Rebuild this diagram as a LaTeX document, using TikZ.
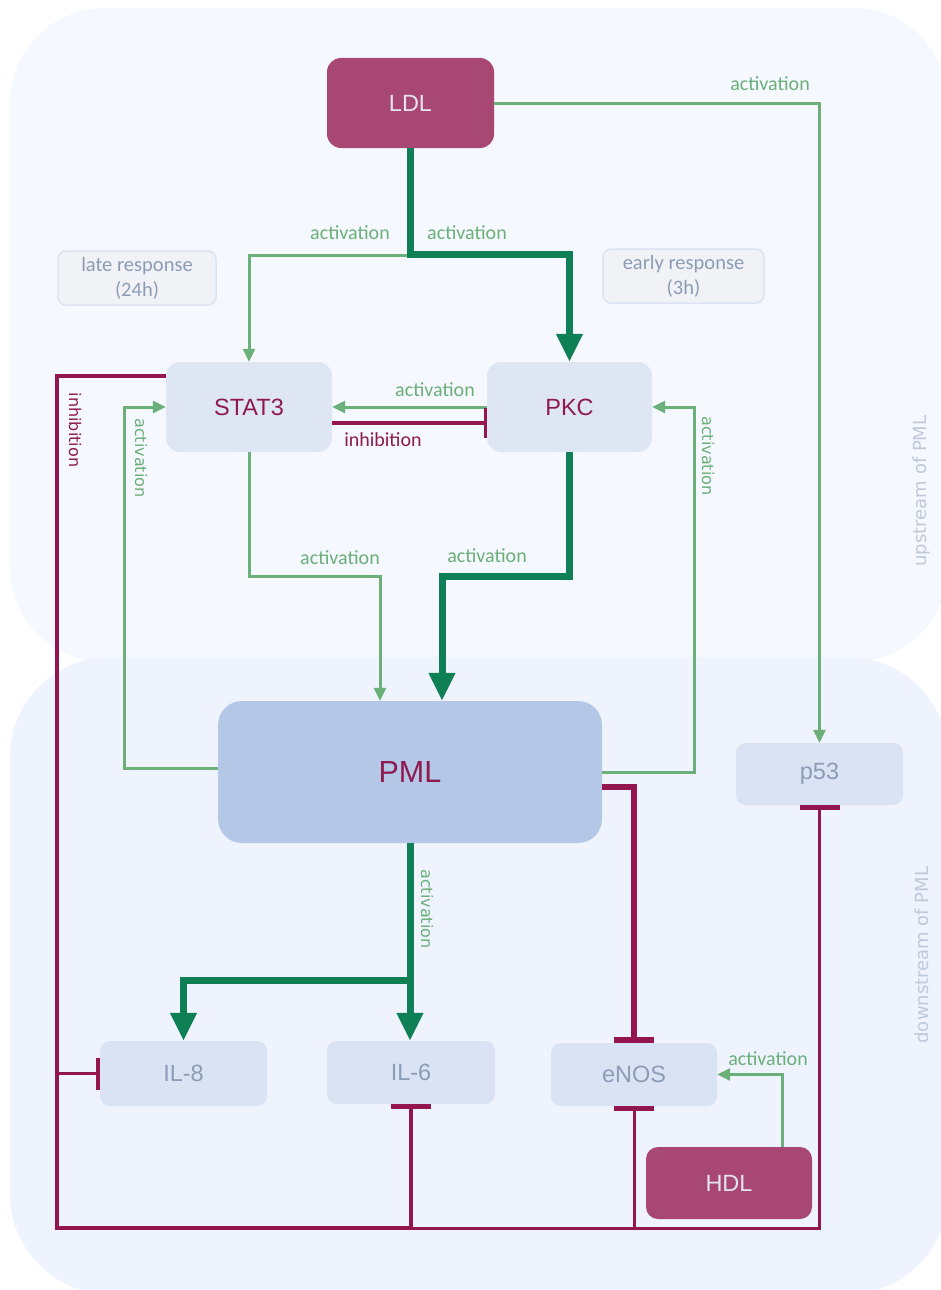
\documentclass[tikz,border=0pt]{standalone}
\usepackage{fontspec}
\setmainfont{Carlito}
\newfontfamily\labelfont{Liberation Sans}
\newfontfamily\widefont{DejaVu Sans}
\usetikzlibrary{arrows.meta}

\definecolor{upbg}{HTML}{F5F8FE}
\definecolor{lowbg}{HTML}{EEF3FD}
\definecolor{plum}{HTML}{A84773}
\definecolor{inhib}{HTML}{931651}
\definecolor{dkgreen}{HTML}{0F7F55}
\definecolor{ltgreen}{HTML}{6BAF79}
\definecolor{boxfill}{HTML}{DEE6F4}
\definecolor{pmlfill}{HTML}{B4C7E7}
\definecolor{leaffill}{HTML}{DAE3F3}
\definecolor{leaftext}{HTML}{8C9CB7}
\definecolor{notefill}{HTML}{F1F2F5}
\definecolor{noteline}{HTML}{DCE3F2}
\definecolor{sidetext}{HTML}{BFC9DA}
\definecolor{magtext}{HTML}{8E1A50}
\definecolor{srctext}{HTML}{E2E2F0}

\tikzset{
  box/.style={rounded corners=12pt, inner sep=0pt,
    font=\labelfont\fontsize{23.5}{26}\selectfont},
  source/.style={box, fill=plum, text=srctext},
  hub/.style={box, fill=boxfill, text=magtext},
  leaf/.style={box, fill=leaffill, text=leaftext},
  note/.style={draw=noteline, line width=1.5pt, fill=notefill, rounded corners=8pt,
    text=leaftext, align=center, inner sep=0pt, font=\fontsize{20.5}{25}\selectfont},
  act/.style={draw=ltgreen, line width=3pt, -{Triangle[length=13pt,width=12pt]}},
  strong/.style={draw=dkgreen, line width=7pt, -{Triangle[length=28pt,width=25pt]}},
  inh/.style={draw=inhib, line width=3pt, -{Bar[width=40pt,line width=5pt]}},
  lab/.style={text=ltgreen, font=\fontsize{20}{22}\selectfont, inner sep=1pt},
  ilab/.style={text=magtext, font=\fontsize{20}{22}\selectfont, inner sep=1pt},
  vlab/.style={font=\widefont\fontsize{16}{18}\selectfont, rotate=-90, inner sep=1pt},
  side/.style={text=sidetext, font=\widefont\fontsize{18}{20}\selectfont, rotate=90, inner sep=1pt}
}

\begin{document}
\begin{tikzpicture}[x=1pt,y=-1pt]
\useasboundingbox (0,0) rectangle (941,1290);

% two background bands
\fill[upbg, rounded corners=95pt] (10,8) rectangle (948,662);
\fill[lowbg, rounded corners=100pt] (10,657) rectangle (948,1294);

% band captions
\node[side] (up) at (922,491) {upstream of PML};
\node[side] (down) at (922,955) {downstream of PML};

% notes
\node[note, minimum width=158pt, minimum height=54pt] (late) at (137,278) {late response\\(24h)};
\node[note, minimum width=161pt, minimum height=54pt] (early) at (683.5,276) {early response\\(3h)};

% nodes
\node[source, minimum width=167pt, minimum height=90pt, rounded corners=14pt] (LDL) at (410.5,103) {LDL};
\node[hub, minimum width=166pt, minimum height=90pt, rounded corners=14pt] (STAT3) at (249,407) {STAT3};
\node[hub, minimum width=165pt, minimum height=90pt, rounded corners=14pt] (PKC) at (569.5,407) {PKC};
\node[box, fill=pmlfill, text=magtext, minimum width=384pt, minimum height=142pt,
      rounded corners=24pt, font=\labelfont\fontsize{30.5}{33}\selectfont] (PML) at (410,772) {PML};
\node[leaf, minimum width=167pt, minimum height=62pt, rounded corners=10pt] (p53) at (819.5,774) {p53};
\node[leaf, minimum width=167pt, minimum height=65pt, rounded corners=10pt] (IL8) at (183.5,1073.5) {IL-8};
\node[leaf, minimum width=168pt, minimum height=63pt, rounded corners=10pt] (IL6) at (411,1072.5) {IL-6};
\node[leaf, minimum width=166pt, minimum height=63pt, rounded corners=10pt] (eNOS) at (634,1074.5) {eNOS};
\node[source, minimum width=166pt, minimum height=72pt, rounded corners=12pt] (HDL) at (729,1183) {HDL};

% junction points
\coordinate (ldlfork) at (407,255);
\coordinate (pmlfork) at (410,980);
\coordinate (loopcorner) at (57,1228);
\coordinate (loopmid) at (411,1228);

% inhibition loop from STAT3
\draw[inh, line width=4pt] ([yshift=-14pt]STAT3.north west) -| (loopcorner) -| (IL6.south);
\draw[inh, -{Bar[width=32pt,line width=4pt]}] (loopcorner |- IL8.west) -- (IL8.west);
\draw[inh] (loopmid) -| (eNOS.south);
\draw[inh] (loopmid) -| (p53.south);

% LDL outputs
\draw[strong] (LDL.south) |- ([yshift=-106pt]LDL.south) -| (PKC.north);
\draw[act] (ldlfork) -| (STAT3.north);
\draw[act] (LDL.east) -| (p53.north);

% STAT3 / PKC crosstalk
\draw[act] (PKC.west) -- (STAT3.east);
\draw[inh, line width=4pt, -{Bar[width=30pt,line width=3pt]}] ([yshift=-16pt]STAT3.east) -- ([yshift=-16pt]PKC.west);

% inputs to PML
\draw[act] (STAT3.south) -- ++(0,124) -| ([xshift=-30pt]PML.north);
\draw[strong] (PKC.south) -- ++(0,124) -| ([xshift=32pt]PML.north);

% PML feedback
\draw[act] ([yshift=4pt]PML.west) -- ++(-93,0) |- (STAT3.west);
\draw[act] ([yshift=0pt]PML.east) -- ++(92,0) |- (PKC.east);
\draw[inh, line width=6pt, -{Bar[width=40pt,line width=6pt]}] ([yshift=-15pt]PML.east) -| (eNOS.north);

% PML outputs
\draw[strong] (PML.south) -- (PML.south |- IL6.north);
\draw[strong] (pmlfork) -| (IL8.north);

% HDL
\draw[act] ([xshift=53pt]HDL.north) |- (eNOS.east);

% edge labels
\node[lab] (a1) at (350,233) {activation};
\node[lab] (a2) at (467,233) {activation};
\node[lab] (a3) at (770,84) {activation};
\node[lab] (a4) at (435,390) {activation};
\node[lab] (a5) at (340,558) {activation};
\node[lab] (a6) at (487,556) {activation};
\node[lab] (a7) at (768,1059) {activation};
\node[ilab] (i1) at (383,440) {inhibition};
\node[vlab, text=ltgreen] (v1) at (141,458) {activation};
\node[vlab, text=ltgreen] (v2) at (708,456) {activation};
\node[vlab, text=ltgreen] (v3) at (427,909) {activation};
\node[vlab, text=magtext] (v4) at (75,430) {inhibition};
\end{tikzpicture}
\end{document}
